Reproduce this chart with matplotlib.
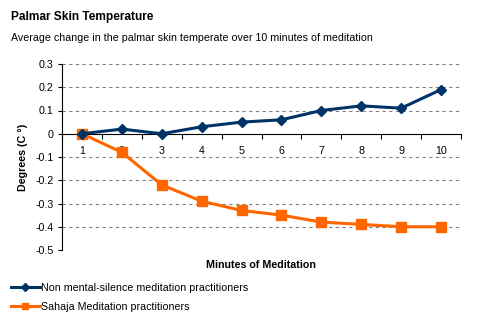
import matplotlib.pyplot as plt
from matplotlib.lines import Line2D

plt.rcParams['font.family'] = ['Liberation Sans', 'DejaVu Sans']

minutes = [1, 2, 3, 4, 5, 6, 7, 8, 9, 10]
non_silence = [0, 0.02, 0, 0.03, 0.05, 0.06, 0.10, 0.12, 0.11, 0.19]
sahaja = [0, -0.08, -0.22, -0.29, -0.33, -0.35, -0.38, -0.39, -0.40, -0.40]
y_ticks = [0.3, 0.2, 0.1, 0, -0.1, -0.2, -0.3, -0.4, -0.5]
y_labels = ['0.3', '0.2', '0.1', '0', '-0.1', '-0.2', '-0.3', '-0.4', '-0.5']

blue = '#003366'
orange = '#FF6600'
fs = 7.7

fig = plt.figure(figsize=(4.79, 3.24), dpi=100)
ax = fig.add_axes([62 / 479, 1 - 250 / 324, 399 / 479, 186 / 324])

ax.plot(minutes, non_silence, color=blue, lw=2.2, marker='D', ms=5.5,
        label='Non mental-silence meditation practitioners', zorder=4)
ax.plot(minutes, sahaja, color=orange, lw=2.2, marker='s', ms=7,
        label='Sahaja Meditation practitioners', zorder=3)

ax.set_xlim(0.5, 10.5)
ax.set_ylim(-0.5, 0.3)
ax.set_yticks(y_ticks)
ax.set_yticklabels(y_labels, fontsize=fs)
for y in y_ticks:
    if y != 0:
        ax.axhline(y, color='#808080', lw=0.8, ls=(0, (3, 3)), zorder=1)

ax.spines['top'].set_visible(False)
ax.spines['right'].set_visible(False)
ax.spines['bottom'].set_position(('data', 0))
ax.spines['bottom'].set_linewidth(0.8)
ax.spines['left'].set_linewidth(0.8)

ax.set_xticks([i + 0.5 for i in range(0, 11)])
ax.set_xticklabels([])
ax.set_xticks(minutes, minor=True)
ax.set_xticklabels([str(m) for m in minutes], minor=True, fontsize=fs)
ax.tick_params(axis='x', which='major', direction='out', length=3.5, width=0.8)
ax.tick_params(axis='x', which='minor', length=0, pad=9)
ax.tick_params(axis='y', direction='out', length=3, width=0.8, pad=3)

ax.set_ylabel('Degrees (C °)', fontsize=fs, fontweight='bold', labelpad=5)
fig.text(261 / 479, 1 - 265 / 324, 'Minutes of Meditation', fontsize=fs,
         fontweight='bold', ha='center', va='center')

fig.text(11 / 479, 1 - 17 / 324, 'Palmar Skin Temperature', fontsize=8.6,
         fontweight='bold', ha='left', va='center')
fig.text(11 / 479, 1 - 38 / 324,
         'Average change in the palmar skin temperate over 10 minutes of meditation',
         fontsize=fs, ha='left', va='center')

handles = [Line2D([], [], color=blue, lw=2.2, marker='D', ms=4),
           Line2D([], [], color=orange, lw=2.2, marker='s', ms=5)]
fig.legend(handles, ['Non mental-silence meditation practitioners',
                     'Sahaja Meditation practitioners'],
           loc='upper left', bbox_to_anchor=(11 / 479, 1 - 283 / 324),
           frameon=False, fontsize=fs, handlelength=2.7, handletextpad=0.1,
           labelspacing=0.8, borderaxespad=0, borderpad=0)

fig.savefig('out.png', dpi=100)
